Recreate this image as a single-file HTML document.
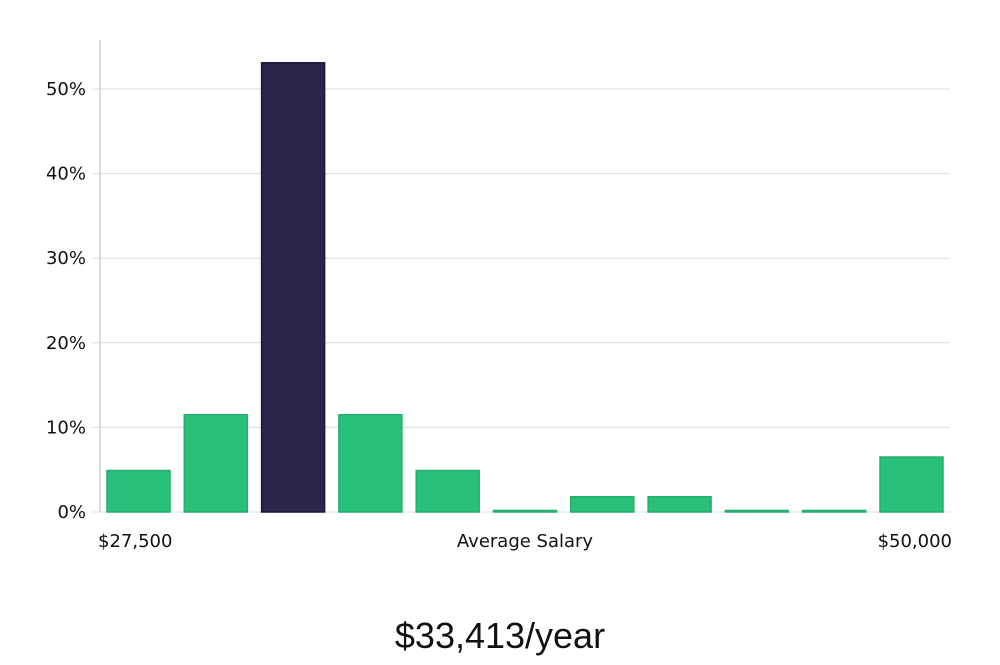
<!DOCTYPE html>
<html><head><meta charset="utf-8"><style>
body{margin:0;background:#fff;width:1000px;height:660px;overflow:hidden}
svg text{font-family:"DejaVu Sans","Liberation Sans",sans-serif;fill:#111}
</style></head><body>
<svg id="chart" width="1000" height="660" xmlns="http://www.w3.org/2000/svg">
<g id="grid"></g><g id="bars"></g><g id="axes"></g>
<text x="98" y="547" font-size="18">$27,500</text>
<text x="525" y="547" font-size="18" text-anchor="middle">Average Salary</text>
<text x="952" y="547" font-size="18" text-anchor="end">$50,000</text>
<text x="500" y="648" font-size="36" text-anchor="middle" style="font-family:'Liberation Sans',sans-serif;font-weight:300">$33,413/year</text>
</svg>
<script>
const values=[4.9,11.5,53.1,11.5,4.9,0.15,1.8,1.8,0.1,0.1,6.5];
const highlight=[false,false,true,false,false,false,false,false,false,false,false];
const yTicks=[0,10,20,30,40,50];
const tickLabels=["0%","10%","20%","30%","40%","50%"];
const NS="http://www.w3.org/2000/svg";
const x0=100,x1=950,y0=512,pxPer=8.46;
const y=v=>y0-v*pxPer;
const step=77.3,bw=63,bx=i=>107+i*step;
function mk(t,a,p){const e=document.createElementNS(NS,t);for(const k in a)e.setAttribute(k,a[k]);p.appendChild(e);return e;}
const grid=document.getElementById('grid'),bars=document.getElementById('bars'),axes=document.getElementById('axes');
yTicks.forEach((t,i)=>{
 const l=mk('line',{x1:92,x2:x1,y1:y(t),y2:y(t),stroke:'#dcdcdc','stroke-width':1},grid);
 
 
 const tx=mk('text',{x:86,y:y(t)+6,'font-size':18,'text-anchor':'end'},axes);
 tx.textContent=tickLabels[i];
 
 
});
const ax=mk('line',{x1:x0,x2:x0,y1:40,y2:y0,stroke:'#d0d0d0','stroke-width':1.5},axes);


values.forEach((v,i)=>{
 const h=Math.max(v*pxPer,1.5);
 const r=mk('rect',{x:bx(i),y:y0-h,width:bw,height:h,fill:highlight[i]?'#29264a':'#2abf7a',stroke:highlight[i]?'#1a1838':'#22b06c','stroke-width':1.5},bars);
 
 
});
</script>
</body></html>
